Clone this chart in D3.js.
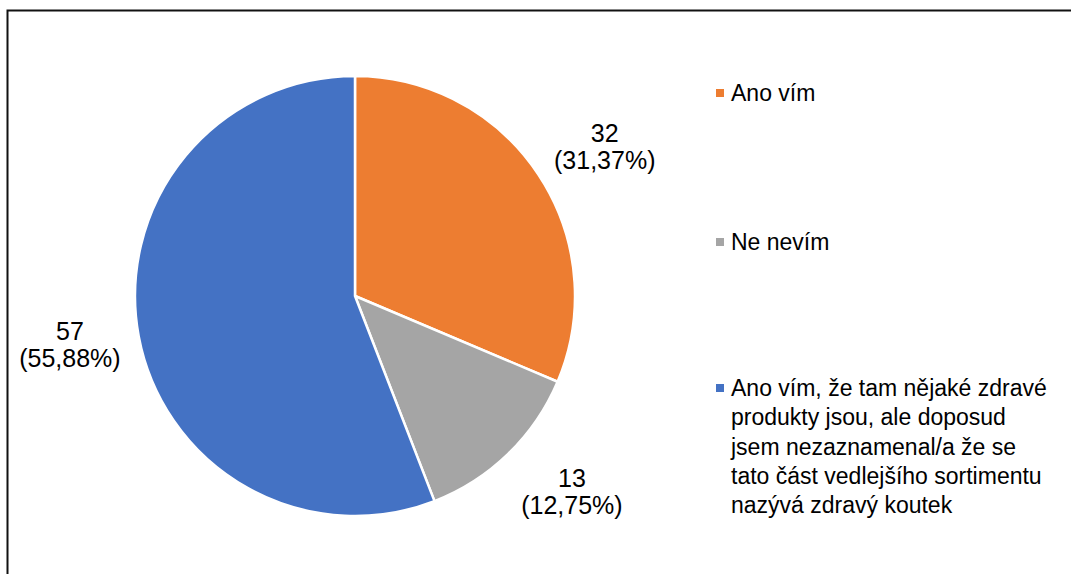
<!DOCTYPE html>
<html>
<head>
<meta charset="utf-8">
<script src="https://cdn.jsdelivr.net/npm/d3@7"></script>
<style>
  body { margin: 0; background: #fff; }
  text { font-family: "Liberation Sans", Arial, sans-serif; fill: #000; }
</style>
</head>
<body>
<script>
var width = 1071,
    height = 574;

// data
var categories = ["Ano vím", "Ne nevím",
    "Ano vím, že tam nějaké zdravé produkty jsou, ale doposud jsem nezaznamenal/a že se tato část vedlejšího sortimentu nazývá zdravý koutek"];
var counts = [32, 13, 57];
var percents = ["31,37%", "12,75%", "55,88%"];
var colors = ["#ED7D31", "#A5A5A5", "#4472C4"];
// legend text as wrapped in the original
var legendLines = [
    ["Ano vím"],
    ["Ne nevím"],
    ["Ano vím, že tam nějaké zdravé", "produkty jsou, ale doposud", "jsem nezaznamenal/a že se",
     "tato část vedlejšího sortimentu", "nazývá zdravý koutek"]
];

var cx = 355, cy = 296, radius = 220;
// excel "best fit" label placement isn't exactly radial, small nudges
var labelNudge = [[8, 11], [15, -12], [0, -4]];

const svg = d3.select("body")
    .append("svg")
    .attr("width", width)
    .attr("height", height);

// frame
svg.append("rect")
    .attr("x", 7.5).attr("y", 10.5)
    .attr("width", 1100).attr("height", 600)
    .attr("fill", "none")
    .attr("stroke", "#111")
    .attr("stroke-width", 2);

var data = categories.map(function (c, i) {
    return { name: c, value: counts[i], pct: percents[i], color: colors[i] };
});

var pie = d3.pie()
    .sort(null)
    .value(function (d) { return d.value; });

var arc = d3.arc().innerRadius(0).outerRadius(radius);
var labelArc = d3.arc().innerRadius(290).outerRadius(290);

var g = svg.append("g")
    .attr("transform", "translate(" + cx + "," + cy + ")");

var arcs = pie(data);

g.selectAll("path")
    .data(arcs)
    .enter().append("path")
    .attr("d", arc)
    .attr("fill", function (d) { return d.data.color; })
    .attr("stroke", "#fff")
    .attr("stroke-width", 2.5)
    .attr("stroke-linejoin", "round");

// data labels
var labels = g.selectAll("text.lbl")
    .data(arcs)
    .enter().append("text")
    .attr("class", "lbl")
    .attr("text-anchor", "middle")
    .style("font-size", "25px")
    .attr("transform", function (d, i) {
        var c = labelArc.centroid(d);
        return "translate(" + (c[0] + labelNudge[i][0]) + "," + (c[1] + labelNudge[i][1]) + ")";
    });

labels.append("tspan")
    .attr("x", 0).attr("y", -5)
    .text(function (d) { return d.data.value; });
labels.append("tspan")
    .attr("x", 0).attr("y", 22)
    .text(function (d) { return "(" + d.data.pct + ")"; });

// legend
var legendY = [93, 242, 388];
var legend = svg.append("g")
    .selectAll("g")
    .data(data)
    .enter().append("g")
    .attr("transform", function (d, i) { return "translate(716," + legendY[i] + ")"; });

legend.append("rect")
    .attr("x", 0).attr("y", -4)
    .attr("width", 8).attr("height", 8)
    .attr("fill", function (d) { return d.color; });

legend.append("text")
    .style("font-size", "23px")
    .selectAll("tspan")
    .data(function (d, i) { return legendLines[i]; })
    .enter().append("tspan")
    .attr("x", 15)
    .attr("y", function (d, j) { return j * 29.3 + 8; })
    .text(function (d) { return d; });
</script>
</body>
</html>
